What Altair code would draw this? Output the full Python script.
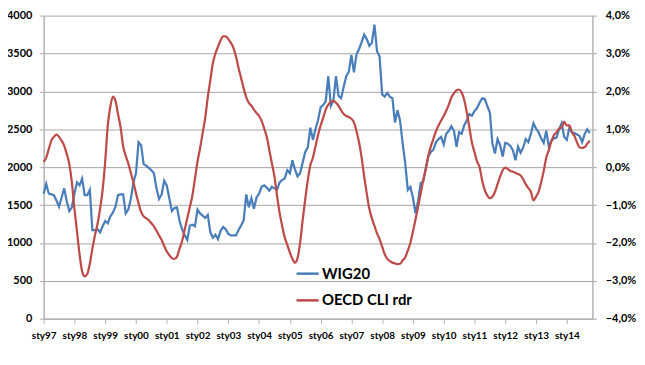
import json
import altair as alt
import pandas as pd

# Monthly values, Jan 1997 onwards
WIG20 = [
    1650, 1780, 1650, 1640, 1630, 1560, 1480, 1600, 1720, 1550, 1420, 1470,
    1650, 1800, 1760, 1850, 1630, 1630, 1700, 1170, 1170, 1180, 1140, 1220,
    1290, 1260, 1350, 1400, 1480, 1630, 1640, 1640, 1390, 1440, 1580, 1800,
    1920, 2330, 2290, 2040, 2020, 1990, 1960, 1920, 1720, 1580, 1640, 1820,
    1760, 1590, 1420, 1460, 1470, 1290, 1180, 1100, 1040, 1230, 1240, 1220,
    1440, 1390, 1360, 1330, 1370, 1140, 1070, 1110, 1050, 1160, 1210, 1180,
    1120, 1100, 1100, 1100, 1170, 1230, 1300, 1640, 1470, 1590, 1450, 1600,
    1650, 1740, 1760, 1730, 1690, 1740, 1720, 1700, 1800, 1830, 1850, 1960,
    1920, 2090, 1970, 1880, 1920, 2060, 2200, 2260, 2520, 2360, 2500, 2620,
    2790, 2820, 2870, 3200, 2810, 2880, 3200, 2940, 2910, 3060, 3200, 3260,
    3480, 3250, 3490, 3560, 3650, 3750, 3690, 3600, 3640, 3880, 3530, 3460,
    2960, 2930, 2980, 2930, 2910, 2590, 2750, 2610, 2310, 2050, 1700, 1740,
    1600, 1390, 1550, 1790, 1810, 1980, 2140, 2200, 2230, 2330, 2370, 2400,
    2300, 2440, 2480, 2540, 2480, 2270, 2460, 2440, 2550, 2620, 2700, 2680,
    2740, 2780, 2850, 2910, 2900, 2810, 2720, 2310, 2180, 2370, 2290, 2140,
    2320, 2310, 2280, 2220, 2090, 2270, 2190, 2260, 2370, 2330, 2440, 2580,
    2510, 2460, 2380, 2320, 2480, 2270, 2350, 2380, 2390, 2500, 2580, 2400,
    2360, 2520, 2460, 2450, 2430, 2410, 2330, 2440, 2500, 2450,
]

OECD_CLI_RDR = [
    0.14, 0.25, 0.48, 0.70, 0.80, 0.86, 0.80, 0.70, 0.57, 0.35, 0.08, -0.40,
    -1.10, -1.70, -2.30, -2.75, -2.88, -2.82, -2.55, -2.15, -1.80, -1.50, -1.10, -0.60,
    0.15, 1.10, 1.60, 1.86, 1.75, 1.40, 1.05, 0.55, 0.30, 0.10, -0.15, -0.40,
    -0.69, -0.95, -1.18, -1.30, -1.35, -1.40, -1.48, -1.56, -1.68, -1.80, -1.92, -2.08,
    -2.22, -2.32, -2.40, -2.42, -2.36, -2.15, -1.95, -1.65, -1.35, -1.05, -0.75, -0.30,
    0.15, 0.50, 0.90, 1.30, 1.85, 2.30, 2.75, 3.00, 3.18, 3.35, 3.45, 3.45,
    3.38, 3.28, 3.15, 2.92, 2.62, 2.35, 2.08, 1.85, 1.70, 1.62, 1.52, 1.43,
    1.35, 1.22, 1.02, 0.80, 0.45, 0.10, -0.25, -0.75, -1.20, -1.55, -1.85, -2.05,
    -2.25, -2.42, -2.52, -2.40, -2.00, -1.40, -0.85, -0.35, 0.05, 0.25, 0.55, 0.85,
    1.10, 1.30, 1.52, 1.65, 1.73, 1.75, 1.70, 1.62, 1.50, 1.40, 1.35, 1.32,
    1.28, 1.18, 0.95, 0.65, 0.25, -0.25, -0.70, -1.10, -1.35, -1.55, -1.75, -1.90,
    -2.10, -2.30, -2.42, -2.48, -2.52, -2.54, -2.56, -2.55, -2.46, -2.38, -2.20, -2.00,
    -1.70, -1.38, -1.05, -0.70, -0.35, -0.05, 0.30, 0.55, 0.75, 0.95, 1.10, 1.23,
    1.35, 1.49, 1.65, 1.84, 1.95, 2.03, 2.05, 1.97, 1.78, 1.45, 1.05, 0.65,
    0.40, 0.15, 0.00, -0.35, -0.60, -0.75, -0.82, -0.78, -0.65, -0.45, -0.25, -0.08,
    -0.01, -0.05, -0.10, -0.12, -0.15, -0.18, -0.22, -0.32, -0.45, -0.55, -0.65, -0.88,
    -0.78, -0.65, -0.40, -0.10, 0.25, 0.45, 0.68, 0.85, 0.92, 1.02, 1.05, 1.20,
    1.10, 1.10, 0.92, 0.82, 0.65, 0.52, 0.51, 0.53, 0.62, 0.70,
]

YEAR_LABELS = ["sty97", "sty98", "sty99", "sty00", "sty01", "sty02", "sty03",
               "sty04", "sty05", "sty06", "sty07", "sty08", "sty09", "sty10",
               "sty11", "sty12", "sty13", "sty14"]
SERIES = ["WIG20", "OECD CLI rdr"]
COLORS = ["#4a7ebb", "#be4b48"]

df_w = pd.DataFrame({"m": range(len(WIG20)), "v": WIG20, "s": SERIES[0]})
df_c = pd.DataFrame({"m": range(len(OECD_CLI_RDR)), "v": OECD_CLI_RDR, "s": SERIES[1]})

FONT = "Lato"
AXIS_GRAY = "#b3b3b3"
GRID_GRAY = "#a6a6a6"

label_expr = json.dumps(YEAR_LABELS) + "[round(datum.value/12)]"

x = alt.X(
    "m:Q",
    scale=alt.Scale(domain=[0, 214], nice=False, zero=False),
    axis=alt.Axis(
        values=[12 * i for i in range(len(YEAR_LABELS))],
        labelExpr=label_expr, title=None, grid=False,
        domainColor=AXIS_GRAY, domainWidth=1.5,
        tickColor=AXIS_GRAY, tickSize=5, tickWidth=1,
        labelFont=FONT, labelFontSize=10, labelFontWeight="bold",
        labelColor="#000000", labelPadding=7, labelFlush=False,
        labelOverlap=False,
    ),
)

color = alt.Color(
    "s:N",
    scale=alt.Scale(domain=SERIES, range=COLORS),
    legend=alt.Legend(
        title=None, orient="none", legendX=254, legendY=248,
        symbolType="stroke", symbolSize=500, symbolStrokeWidth=2.5,
        labelFont=FONT, labelFontSize=15, labelFontWeight="bold",
        labelColor="#000000", rowPadding=6, padding=0, labelOffset=2,
    ),
)

blue = alt.Chart(df_w).mark_line(strokeWidth=2.25).encode(
    x=x,
    y=alt.Y(
        "v:Q",
        scale=alt.Scale(domain=[0, 4000], nice=False),
        axis=alt.Axis(
            orient="left", values=list(range(0, 4001, 500)), title=None,
            format="d",
            grid=True, gridColor=GRID_GRAY, gridWidth=1,
            domainColor=AXIS_GRAY, domainWidth=1.5,
            tickColor=GRID_GRAY, tickSize=4,
            labelFont=FONT, labelFontSize=11, labelFontWeight="bold",
            labelColor="#000000", labelPadding=8,
        ),
    ),
    color=color,
)

red = alt.Chart(df_c).mark_line(strokeWidth=2.25, interpolate="monotone").encode(
    x=x,
    y=alt.Y(
        "v:Q",
        scale=alt.Scale(domain=[-4, 4], nice=False),
        axis=alt.Axis(
            orient="right", values=list(range(-4, 5)), title=None,
            grid=False,
            labelExpr="replace(format(datum.value, '.1f'), '.', ',') + '%'",
            domainColor=AXIS_GRAY, domainWidth=1.5,
            tickColor=GRID_GRAY, tickSize=4,
            labelFont=FONT, labelFontSize=11, labelFontWeight="bold",
            labelColor="#000000", labelPadding=9,
        ),
    ),
    color=color,
)

chart = (
    alt.layer(blue, red)
    .resolve_scale(y="independent")
    .properties(
        width=554, height=306,
        autosize=alt.AutoSizeParams(type="none"),
        padding={"left": 36, "top": 6, "right": 45, "bottom": 40},
        background="white",
    )
    .configure_view(stroke=None)
)

chart.save("out.html", embed_options={"renderer": "svg", "actions": False})
